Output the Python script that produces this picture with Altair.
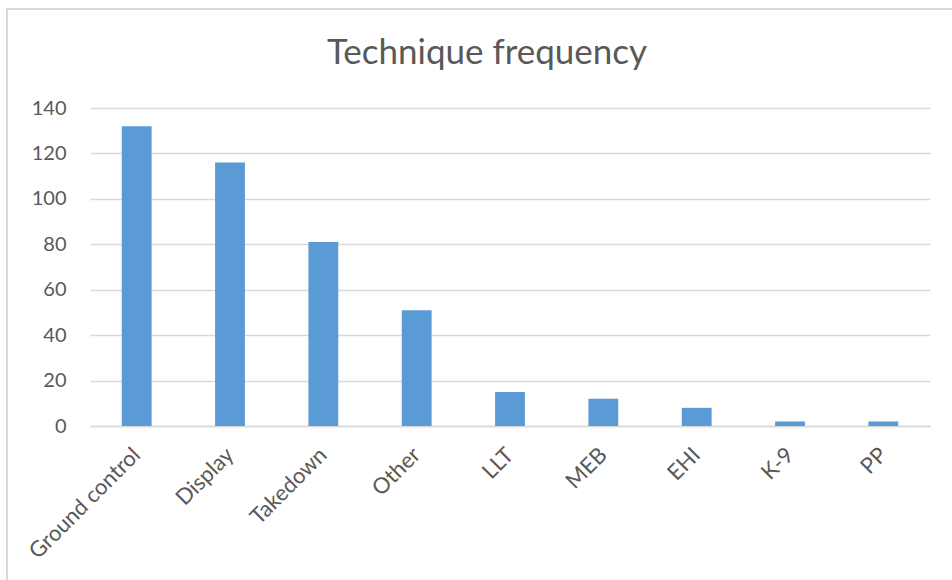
import altair as alt
import pandas as pd

# Technique counts
techniques = ["Ground control", "Display", "Takedown", "Other", "LLT", "MEB", "EHI", "K-9", "PP"]
counts = [132, 116, 81, 51, 15, 12, 8, 2, 2]

df = pd.DataFrame({"technique": techniques, "count": counts})

FONT = "Lato"
TEXT = "#595959"
GRID = "#d9d9d9"

bars = alt.Chart(df).mark_bar(color="#5B9BD5").encode(
    x=alt.X(
        "technique:N",
        sort=techniques,
        title=None,
        scale=alt.Scale(paddingInner=0.68, paddingOuter=0.34),
        axis=alt.Axis(
            labelAngle=-45,
            labelAlign="right",
            labelBaseline="middle",
            labelPadding=25,
            labelFontSize=22,
            labelColor=TEXT,
            labelFont=FONT,
            ticks=False,
            domainColor=GRID,
            domainWidth=1.5,
        ),
    ),
    y=alt.Y(
        "count:Q",
        title=None,
        scale=alt.Scale(domain=[0, 140]),
        axis=alt.Axis(
            values=[0, 20, 40, 60, 80, 100, 120, 140],
            labelFontSize=20,
            labelColor=TEXT,
            labelFont=FONT,
            labelPadding=24,
            ticks=False,
            domain=False,
            gridColor=GRID,
            gridWidth=1.5,
        ),
    ),
)

# Light frame around the chart area
frame = alt.Chart(df).mark_rect(fill=None, stroke=GRID, strokeWidth=1.5).encode(
    x=alt.value(-83), x2=alt.value(900), y=alt.value(-99), y2=alt.value(500)
)

chart = (
    alt.layer(frame, bars)
    .properties(
        width=840,
        height=318,
        padding={"left": 90, "top": 108, "right": 22, "bottom": 154},
        autosize=alt.AutoSizeParams(type="none"),
        title=alt.TitleParams(
            "Technique frequency",
            font=FONT,
            fontSize=35,
            fontWeight="normal",
            color=TEXT,
            anchor="middle",
            baseline="alphabetic",
            dx=-23,
            offset=-91,
        ),
    )
    .configure_view(stroke=None)
)

chart.save("out.html", embed_options={"renderer": "svg", "actions": False})
